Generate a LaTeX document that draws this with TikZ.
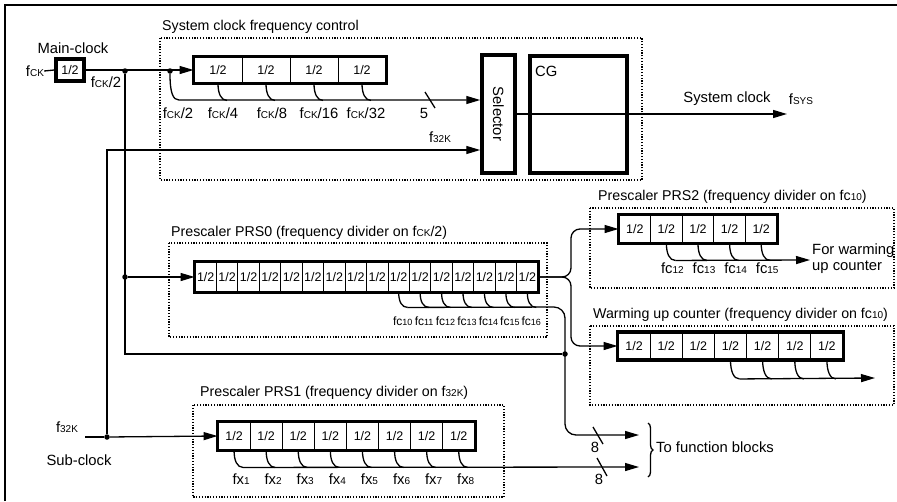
\documentclass[tikz,border=0pt]{standalone}
\usepackage{fontspec}
\setmainfont{Liberation Sans}
\usetikzlibrary{arrows.meta, decorations.pathreplacing}

\newcommand{\subtxt}[1]{{\fontsize{10}{10}\selectfont #1}}

\tikzset{
  wire/.style={line width=1.3pt},
  arr/.style={wire, -{Triangle[length=14pt,width=8pt]}},
  frame/.style={line width=1.2pt, dash pattern=on 1.2pt off 1.6pt},
  cell/.style={draw, line width=0.9pt, inner sep=0pt, font=\fontsize{12.5}{12.5}\selectfont},
  bigbox/.style={draw, line width=3.5pt, inner sep=0pt},
  dot/.style={circle, fill, inner sep=0pt, minimum size=5.5pt},
  lbl/.style={inner sep=0pt, font=\fontsize{14.8}{16}\selectfont},
  title/.style={inner sep=0pt, anchor=west, font=\fontsize{14.2}{16}\selectfont},
}

\begin{document}
\begin{tikzpicture}[x=1pt, y=-1pt]
  \useasboundingbox (0,0) rectangle (897,501);
  \draw[wire] (5,501) -- (5,5) -- (897,5);

  % dotted block frames and titles
  \draw[frame] (160,38) rectangle (642,180);
  \node[title] (tsys) at (162,27) {System clock frequency control};
  \draw[frame] (169,243) rectangle (547,337);
  \node[title] (tprs0) at (171,233) {Prescaler PRS0 (frequency divider on f\subtxt{CK}/2)};
  \draw[frame] (193,405) rectangle (504,497);
  \node[title] (tprs1) at (200,393) {Prescaler PRS1 (frequency divider on f\subtxt{32K})};
  \draw[frame] (590,208) rectangle (894,288);
  \node[title] (tprs2) at (598,197) {Prescaler PRS2 (frequency divider on fc\subtxt{10})};
  \draw[frame] (590,326) rectangle (894,405);
  \node[title] (twu) at (593,315) {Warming up counter (frequency divider on fc\subtxt{10})};

  % main clock
  \node[lbl] (mainlbl) at (73,48) {Main-clock};
  \node[lbl] (fck) at (35,71) {f\subtxt{CK}};
  \node[bigbox, minimum width=28pt, minimum height=22pt, font=\fontsize{12.5}{12.5}\selectfont] (mdiv) at (70,70) {1/2};
  \draw[wire] (fck.east) -- (mdiv.west);
  \node[lbl] (fck2) at (106,82) {f\subtxt{CK}/2};
  \node[dot] (da) at (125,71) {};
  \node[dot] (db) at (170,71) {};
  \node[dot] (dc) at (125,277) {};
  \node[dot] (dd) at (565,354) {};

  % system clock divider
  \foreach \i in {1,...,4}
    \node[cell, minimum width=48pt, minimum height=26pt] (sc\i) at ({194+48*(\i-0.5)},70) {1/2};
  \draw[line width=3.5pt] (sc1.north west) rectangle (sc4.south east);
  \draw[arr] (mdiv.east) -- (sc1.west);
  \foreach \i in {1,...,4}
    \draw[wire] (sc\i.south) .. controls +(0,10) and +(-6,0) .. +(9,17);
  \foreach \t/\x in {2/178,4/223,8/272,16/319,32/366}
    \node[lbl] (lck\t) at (\x,113) {f\subtxt{CK}/\t};

  % selector and CG
  \node[bigbox, minimum width=33pt, minimum height=118pt] (sel) at (498.5,114) {};
  \node[lbl, rotate=-90] (seltxt) at (sel) {Selector};
  \node[bigbox, minimum width=97pt, minimum height=117pt] (cg) at (578.5,114.5) {};
  \node[lbl, anchor=west] (cgtxt) at (535,71) {CG};
  \draw[arr] (db) .. controls +(0,22) and +(-6,0) .. (179,100) -- ([yshift=14pt]sel.west);
  \draw[wire] (425,92) -- (435,108);
  \node[lbl] (n5) at (424,113) {5};
  \draw[arr] (sel.east) -- (787,114);
  \node[lbl] (sysclk) at (727,99) {System clock};
  \node[lbl] (fsys) at (801,99) {f\subtxt{SYS}};

  % main clock routing
  \draw[wire] (da) -- (125,354) -- (dd);

  % sub clock
  \node[lbl] (f32) at (67,427) {f\subtxt{32K}};
  \node[lbl] (sublbl) at (79,460) {Sub-clock};
  \node[dot] (de) at (107,437) {};
  \draw[wire] (85,437) -- (de);
  \draw[arr] (de) |- ([yshift=-36pt]sel.west);
  \node[lbl] (f32b) at (440,137) {f\subtxt{32K}};

  % prescaler PRS0
  \foreach \i in {1,...,16}
    \node[cell, minimum width=21.44pt, minimum height=30pt] (p0c\i) at ({195+21.44*(\i-0.5)},277) {1/2};
  \draw[line width=3.5pt] (p0c1.north west) rectangle (p0c16.south east);
  \draw[arr] (dc) -- (p0c1.west);
  \foreach \i in {10,...,16} {
    \draw[wire] (p0c\i.south) .. controls +(0,9) and +(-6,0) .. +(9,15);
    \node[inner sep=0pt, font=\fontsize{12}{12}\selectfont] (lfc\i) at ({195+21.44*(\i-0.5)+4},321) {fc{\fontsize{9}{9}\selectfont\i}};
  }
  \draw[arr, rounded corners=11pt] ([xshift=9pt,yshift=-15pt]p0c10.south) -- (565,307) -- (565,435) -- (639,435);

  % prescaler PRS2
  \foreach \i in {1,...,5}
    \node[cell, minimum width=31.6pt, minimum height=28pt] (p2c\i) at ({619+31.6*(\i-0.5)},229) {1/2};
  \draw[line width=3.5pt] (p2c1.north west) rectangle (p2c5.south east);
  \foreach \i in {2,...,5} {
    \draw[wire] (p2c\i.south) .. controls +(0,10) and +(-6,0) .. +(9,17);
    \pgfmathtruncatemacro{\n}{\i+10}
    \node[lbl] (lp2\i) at ({619+31.6*(\i-0.5)+6},268) {fc\subtxt{\n}};
  }
  \draw[arr] ([xshift=9pt,yshift=-17pt]p2c2.south) -- (810,260);
  \node[lbl, anchor=west] (forwu) at (812,251) {For warming};
  \node[lbl, anchor=west] (upcnt) at (812,267) {up counter};

  % warming up counter
  \foreach \i in {1,...,7}
    \node[cell, minimum width=32.14pt, minimum height=27pt] (wc\i) at ({618+32.14*(\i-0.5)},346) {1/2};
  \draw[line width=3.5pt] (wc1.north west) rectangle (wc7.south east);
  \foreach \i in {4,...,7}
    \draw[wire] (wc\i.south) .. controls +(0,11) and +(-6,0) .. +(9,19);
  \draw[arr] ([xshift=9pt,yshift=-19pt]wc4.south) -- (875,378);

  % PRS0 output split
  \draw[arr, rounded corners=9pt] (p0c16.east) -- (571,277) |- (p2c1.west);
  \draw[arr, rounded corners=9pt] (p0c16.east) -- (571,277) |- (wc1.west);

  % prescaler PRS1
  \foreach \i in {1,...,8}
    \node[cell, minimum width=32.1pt, minimum height=28pt] (p1c\i) at ({218+32.1*(\i-0.5)},436) {1/2};
  \draw[line width=3.5pt] (p1c1.north west) rectangle (p1c8.south east);
  \draw[arr] (de) -- (p1c1.west);
  \foreach \i in {1,...,8} {
    \draw[wire] (p1c\i.south) .. controls +(0,10) and +(-6,0) .. +(9,17);
    \node[lbl] (lfx\i) at ({218+32.1*(\i-0.5)+7},479) {fx\subtxt{\i}};
  }
  \draw[arr] ([xshift=9pt,yshift=-17pt]p1c1.south) -- (639,467);

  % outputs to function blocks
  \draw[wire] (593,427) -- (603,444);
  \node[lbl] (n8a) at (595,447) {8};
  \draw[wire] (597,458) -- (607,476);
  \node[lbl] (n8b) at (599,479) {8};
  \draw[wire, decorate, decoration={brace, amplitude=5pt}] (648,423) -- (648,477);
  \node[lbl, anchor=west] (tofb) at (656,447) {To function blocks};
\end{tikzpicture}
\end{document}
